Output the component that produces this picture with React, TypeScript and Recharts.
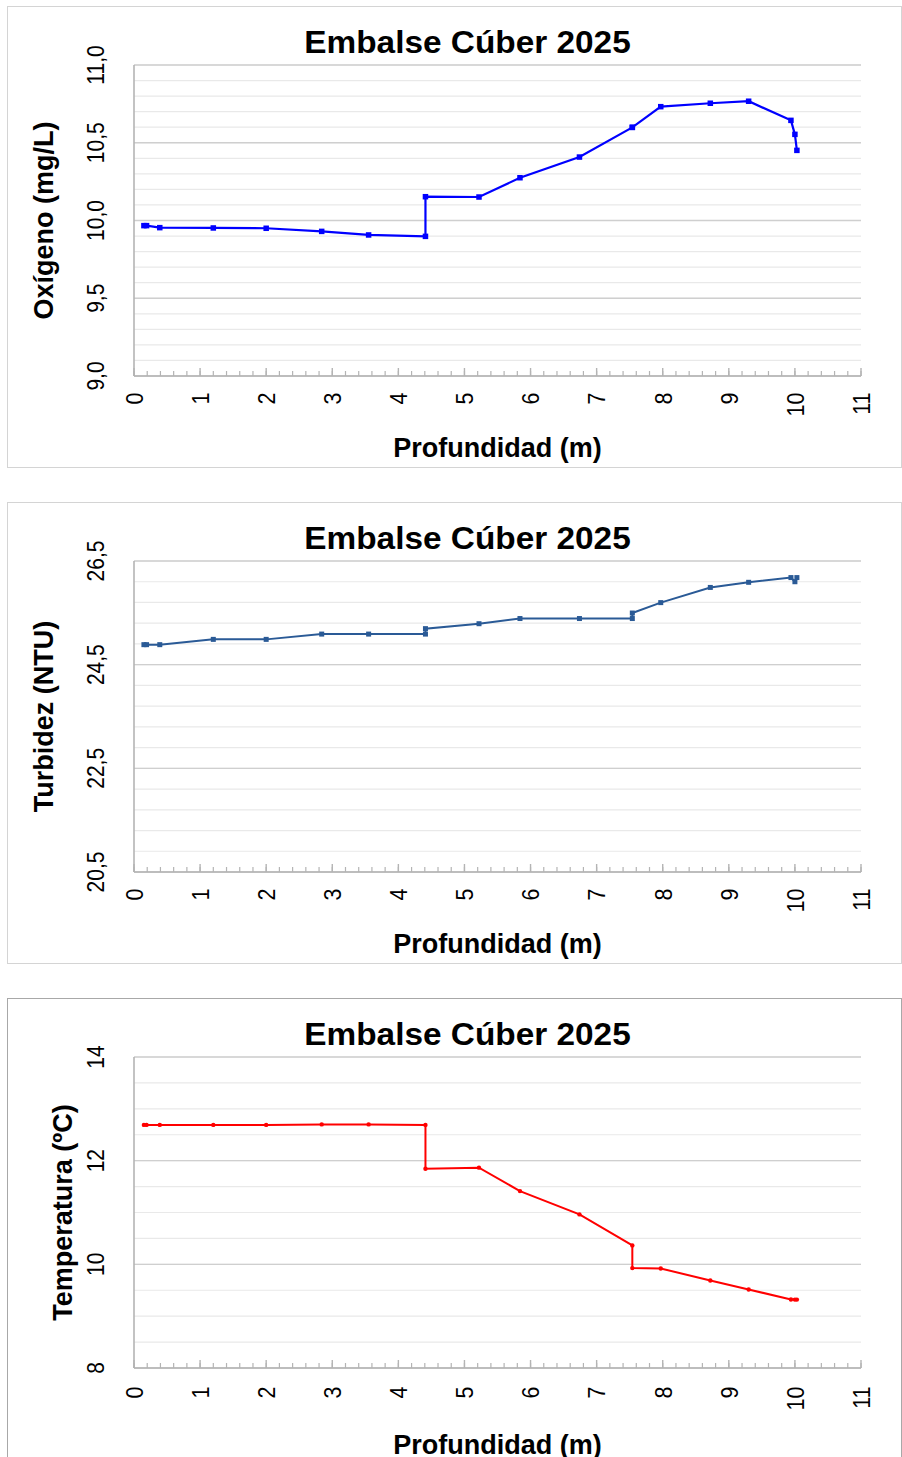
import React from 'react';
import { LineChart, Line, XAxis, YAxis, CartesianGrid } from 'recharts';

// ---------- data ----------
const depth = [0.15, 0.19, 0.39, 1.2, 2.0, 2.84, 3.55, 4.41, 4.41, 5.22, 5.84, 6.74, 7.54, 7.54, 7.97, 8.72, 9.3, 9.94, 10.0, 10.03];
const oxygen = [9.967, 9.967, 9.954, 9.952, 9.95, 9.93, 9.907, 9.898, 10.153, 10.151, 10.275, 10.408, 10.599, 10.599, 10.732, 10.754, 10.767, 10.644, 10.554, 10.451];
const turbidity = [24.886, 24.886, 24.886, 24.988, 24.988, 25.09, 25.09, 25.09, 25.195, 25.29, 25.39, 25.39, 25.39, 25.496, 25.697, 25.99, 26.089, 26.18, 26.1, 26.18];
const temperature = [12.69, 12.69, 12.69, 12.69, 12.69, 12.7, 12.7, 12.69, 11.845, 11.865, 11.413, 10.963, 10.365, 9.927, 9.92, 9.689, 9.515, 9.322, 9.32, 9.32];

const xMajorTicks = [0, 1, 2, 3, 4, 5, 6, 7, 8, 9, 10, 11];
const xMinorTicks = [0, 0.2, 0.4, 0.6, 0.8, 1, 1.2, 1.4, 1.6, 1.8, 2, 2.2, 2.4, 2.6, 2.8, 3, 3.2, 3.4, 3.6, 3.8, 4, 4.2, 4.4, 4.6, 4.8, 5, 5.2, 5.4, 5.6, 5.8, 6, 6.2, 6.4, 6.6, 6.8, 7, 7.2, 7.4, 7.6, 7.8, 8, 8.2, 8.4, 8.6, 8.8, 9, 9.2, 9.4, 9.6, 9.8, 10, 10.2, 10.4, 10.6, 10.8, 11];

const oxyMajor = [9, 9.5, 10, 10.5, 11];
const oxyMinor = [9, 9.1, 9.2, 9.3, 9.4, 9.5, 9.6, 9.7, 9.8, 9.9, 10, 10.1, 10.2, 10.3, 10.4, 10.5, 10.6, 10.7, 10.8, 10.9, 11];
const turbMajor = [20.5, 22.5, 24.5, 26.5];
const turbMinor = [20.5, 20.9, 21.3, 21.7, 22.1, 22.5, 22.9, 23.3, 23.7, 24.1, 24.5, 24.9, 25.3, 25.7, 26.1, 26.5];
const tempMajor = [8, 10, 12, 14];
const tempMinor = [8, 8.5, 9, 9.5, 10, 10.5, 11, 11.5, 12, 12.5, 13, 13.5, 14];

const chartTitle = 'Embalse Cúber 2025';
const xTitle = 'Profundidad (m)';

// ---------- styling ----------
const FONT = '"Liberation Sans", Arial, Helvetica, sans-serif';
const BOX_W = 895;
const BOX_H = 462;
const MARGIN = { top: 59, right: 41, bottom: 0, left: 0 };
const Y_AXIS_W = 127;
const X_AXIS_H = BOX_H - 370;
const X_DOMAIN: [number, number] = [0, 11];
const AXIS_GRAY = '#b4b4b4';
const MINOR_TICK = 5;
const MAJOR_TICK = 8;

const commaFmt = (v: number) => v.toFixed(1).replace('.', ',');
const intFmt = (v: number) => String(v);

const isMajorX = (v: number) => xMajorTicks.some((t) => Math.abs(t - v) < 1e-6);

// label for integer ticks + the longer major tick mark, both placed from the axis-provided tick position
const makeXTick = (fontSize: number, sx: number, tickMargin: number) => (props: any) => {
  const { x, y, payload, index } = props;
  const v = Number(payload.value);
  if (!isMajorX(v)) return <g key={`xt${index}`} />;
  const h = 0.716 * fontSize * sx;
  const axisY = y - tickMargin + MINOR_TICK;
  return (
    <g key={`xt${index}`}>
      <line x1={x} x2={x} y1={axisY} y2={axisY - MAJOR_TICK} stroke={AXIS_GRAY} strokeWidth={1.4} />
      <text
        transform={`translate(${x + h / 2},${y}) scale(${sx},1) rotate(-90)`}
        textAnchor="end"
        fontSize={fontSize}
        fontFamily={FONT}
        fill="#000"
      >
        {String(Math.round(v))}
      </text>
    </g>
  );
};

const makeYTick = (fontSize: number, sx: number, fmt: (v: number) => string) => (props: any) => {
  const { x, y, payload } = props;
  return (
    <text
      transform={`translate(${x},${y}) scale(${sx},1) rotate(-90)`}
      textAnchor="middle"
      fontSize={fontSize}
      fontFamily={FONT}
      fill="#000"
    >
      {fmt(payload.value)}
    </text>
  );
};

const makeXTitle = (offset: number) => (props: any) => {
  const vb = props.viewBox || {};
  return (
    <text
      x={vb.x + vb.width / 2}
      y={vb.y + offset}
      textAnchor="middle"
      fontSize={27}
      fontWeight="bold"
      fontFamily={FONT}
      fill="#000"
    >
      {xTitle}
    </text>
  );
};

const makeYTitle = (text: string, dist: number) => (props: any) => {
  const vb = props.viewBox || {};
  const bx = vb.x + vb.width - dist;
  const cy = vb.y + vb.height / 2;
  return (
    <text
      transform={`translate(${bx},${cy}) rotate(-90)`}
      textAnchor="middle"
      fontSize={27}
      fontWeight="bold"
      fontFamily={FONT}
      fill="#000"
    >
      {text}
    </text>
  );
};

const squareDot = (color: string, size: number) => (props: any) => {
  const { cx, cy, index } = props;
  if (cx == null || cy == null) return <g key={`d${index}`} />;
  return <rect key={`d${index}`} x={cx - size / 2} y={cy - size / 2} width={size} height={size} fill={color} />;
};

const roundDot = (color: string, r: number) => (props: any) => {
  const { cx, cy, index } = props;
  if (cx == null || cy == null) return <g key={`d${index}`} />;
  return <circle key={`d${index}`} cx={cx} cy={cy} r={r} fill={color} />;
};

type Cfg = {
  top: number;
  values: number[];
  yTitle: string;
  color: string;
  dot: any;
  strokeWidth: number;
  domain: [number, number];
  major: number[];
  minor: number[];
  fmt: (v: number) => string;
  border: string;
  yTitleDist: number;
  xTitleOffset: number;
  xTickMargin: number;
};

function DepthChart({ cfg }: { cfg: Cfg }) {
  const data = depth.map((d, i) => ({ depth: d, value: cfg.values[i] }));
  const tickMargin = cfg.xTickMargin + MINOR_TICK;
  return (
    <div style={{ position: 'absolute', left: 7, top: cfg.top, width: BOX_W, height: BOX_H, background: '#fff' }}>
      <LineChart width={BOX_W} height={BOX_H} data={data} margin={MARGIN}>
        <CartesianGrid xAxisId="main" yAxisId="y" vertical={false} horizontalValues={cfg.minor} stroke="#e9e9e9" strokeWidth={1.2} />
        <CartesianGrid xAxisId="main" yAxisId="y" vertical={false} horizontalValues={cfg.major} stroke="#cfcfcf" strokeWidth={1.4} />
        <XAxis
          xAxisId="main"
          type="number"
          dataKey="depth"
          domain={X_DOMAIN}
          allowDataOverflow
          ticks={xMinorTicks}
          interval={0}
          height={X_AXIS_H}
          tickLine={{ stroke: AXIS_GRAY, strokeWidth: 1.2 }}
          tickSize={-MINOR_TICK}
          tickMargin={tickMargin}
          axisLine={{ stroke: AXIS_GRAY, strokeWidth: 1.6 }}
          tick={makeXTick(21.5, 1.15, tickMargin)}
          label={makeXTitle(cfg.xTitleOffset)}
        />
        <YAxis
          yAxisId="y"
          type="number"
          domain={cfg.domain}
          allowDataOverflow
          ticks={cfg.major}
          interval={0}
          width={Y_AXIS_W}
          tickLine={false}
          tickSize={0}
          tickMargin={30}
          axisLine={{ stroke: AXIS_GRAY, strokeWidth: 1.6 }}
          tick={makeYTick(21, 1.14, cfg.fmt)}
          label={makeYTitle(cfg.yTitle, cfg.yTitleDist)}
        />
        <Line
          xAxisId="main"
          yAxisId="y"
          type="linear"
          dataKey="value"
          stroke={cfg.color}
          strokeWidth={cfg.strokeWidth}
          dot={cfg.dot}
          activeDot={false}
          isAnimationActive={false}
        />
      </LineChart>
      <svg width={BOX_W} height={60} style={{ position: 'absolute', left: 0, top: 0, pointerEvents: 'none' }}>
        <text
          transform="translate(460.5,47) scale(1.06,1)"
          textAnchor="middle"
          fontSize={31.5}
          fontWeight="bold"
          fontFamily={FONT}
          fill="#000"
        >
          {chartTitle}
        </text>
      </svg>
      <div
        style={{
          position: 'absolute',
          left: 0,
          top: 0,
          width: BOX_W,
          height: BOX_H,
          boxSizing: 'border-box',
          border: `1.5px solid ${cfg.border}`,
          pointerEvents: 'none',
        }}
      />
    </div>
  );
}

const charts: Cfg[] = [
  {
    top: 6,
    values: oxygen,
    yTitle: 'Oxígeno (mg/L)',
    color: '#0000ff',
    dot: squareDot('#0000ff', 5.5),
    strokeWidth: 2.2,
    domain: [9, 11],
    major: oxyMajor,
    minor: oxyMinor,
    fmt: commaFmt,
    border: '#d4d4d4',
    yTitleDist: 81.5,
    xTitleOffset: 81,
    xTickMargin: 16.5,
  },
  {
    top: 502,
    values: turbidity,
    yTitle: 'Turbidez (NTU)',
    color: '#2a5a96',
    dot: squareDot('#2a5a96', 5),
    strokeWidth: 2,
    domain: [20.5, 26.5],
    major: turbMajor,
    minor: turbMinor,
    fmt: commaFmt,
    border: '#d4d4d4',
    yTitleDist: 81.5,
    xTitleOffset: 81,
    xTickMargin: 16.5,
  },
  {
    top: 998,
    values: temperature,
    yTitle: 'Temperatura (ºC)',
    color: '#ff0000',
    dot: roundDot('#ff0000', 2.2),
    strokeWidth: 2,
    domain: [8, 14],
    major: tempMajor,
    minor: tempMinor,
    fmt: intFmt,
    border: '#a8a8a8',
    yTitleDist: 62.5,
    xTitleOffset: 85.5,
    xTickMargin: 18.5,
  },
];

export default function App() {
  return (
    <div style={{ position: 'absolute', left: 0, top: 0, width: 902, height: 1457, overflow: 'hidden', background: '#fff' }}>
      {charts.map((c, i) => (
        <DepthChart key={i} cfg={c} />
      ))}
    </div>
  );
}
